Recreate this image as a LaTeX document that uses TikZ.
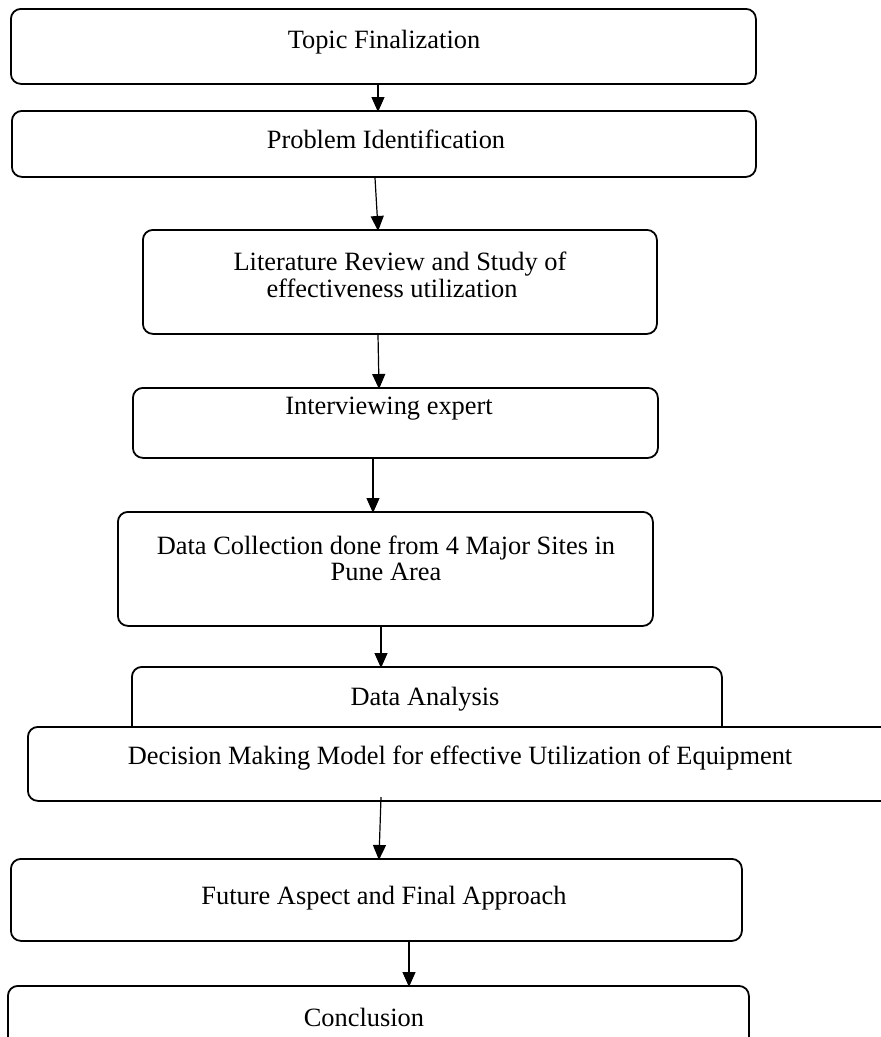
\documentclass[tikz,border=0pt]{standalone}
\usepackage{fontspec}
\setmainfont{Liberation Serif}
\usetikzlibrary{arrows.meta}
\tikzset{
  box/.style={draw=black, line width=1.8pt, rounded corners=10pt, fill=white, inner sep=0pt, anchor=north west},
  txt/.style={font=\fontsize{26.4}{28}\selectfont, anchor=base, inner sep=0pt},
  arr/.style={line width=1.2pt, -{Triangle[length=15pt,width=13pt]}, shorten >=-2pt}
}
\begin{document}
\begin{tikzpicture}[x=1pt,y=-1pt]
\useasboundingbox (0,0) rectangle (881,1037);
\clip (0,0) rectangle (881,1037);
% boxes
\node[box, minimum width=745pt, minimum height=75pt] (b1) at (10,8) {};
\node[box, minimum width=744pt, minimum height=66pt] (b2) at (11,110) {};
\node[box, minimum width=514pt, minimum height=104pt] (b3) at (142,229) {};
\node[box, minimum width=525pt, minimum height=70pt] (b4) at (132,387) {};
\node[box, minimum width=535pt, minimum height=114pt] (b5) at (117,511) {};
\node[box, minimum width=590pt, minimum height=80pt] (b6) at (131,666) {};
\node[box, minimum width=880pt, minimum height=74pt] (b7) at (27,726) {};
\node[box, minimum width=731pt, minimum height=82pt] (b8) at (10,858) {};
\node[box, minimum width=741pt, minimum height=80pt] (b9) at (7,985) {};
% texts
\node[txt] (t1) at (384,48) {Topic Finalization};
\node[txt] (t2) at (386,148) {Problem Identification};
\node[txt] (t3a) at (400,270) {Literature Review and Study of};
\node[txt] (t3b) at (392,297) {effectiveness utilization};
\node[txt] (t4) at (389,414) {Interviewing expert};
\node[txt] (t5a) at (386,554) {Data Collection done from 4 Major Sites in};
\node[txt] (t5b) at (386,580) {Pune Area};
\node[txt] (t6) at (425,705) {Data Analysis};
\node[txt] (t7) at (460,764) {Decision Making Model for effective Utilization of Equipment};
\node[txt] (t8) at (384,904) {Future Aspect and Final Approach};
\node[txt] (t9) at (364,1026) {Conclusion};
% arrows
\draw[arr] (378,0 |- b1.south) -- (378,0 |- b2.north);
\draw[arr] (375,0 |- b2.south) -- (378,0 |- b3.north);
\draw[arr] (378,0 |- b3.south) -- (379,0 |- b4.north);
\draw[arr] (373,0 |- b4.south) -- (373,0 |- b5.north);
\draw[arr] (381,0 |- b5.south) -- (381,0 |- b6.north);
\draw[arr] (381,797) -- (379,0 |- b8.north);
\draw[arr] (409,0 |- b8.south) -- (409,0 |- b9.north);
\end{tikzpicture}
\end{document}
